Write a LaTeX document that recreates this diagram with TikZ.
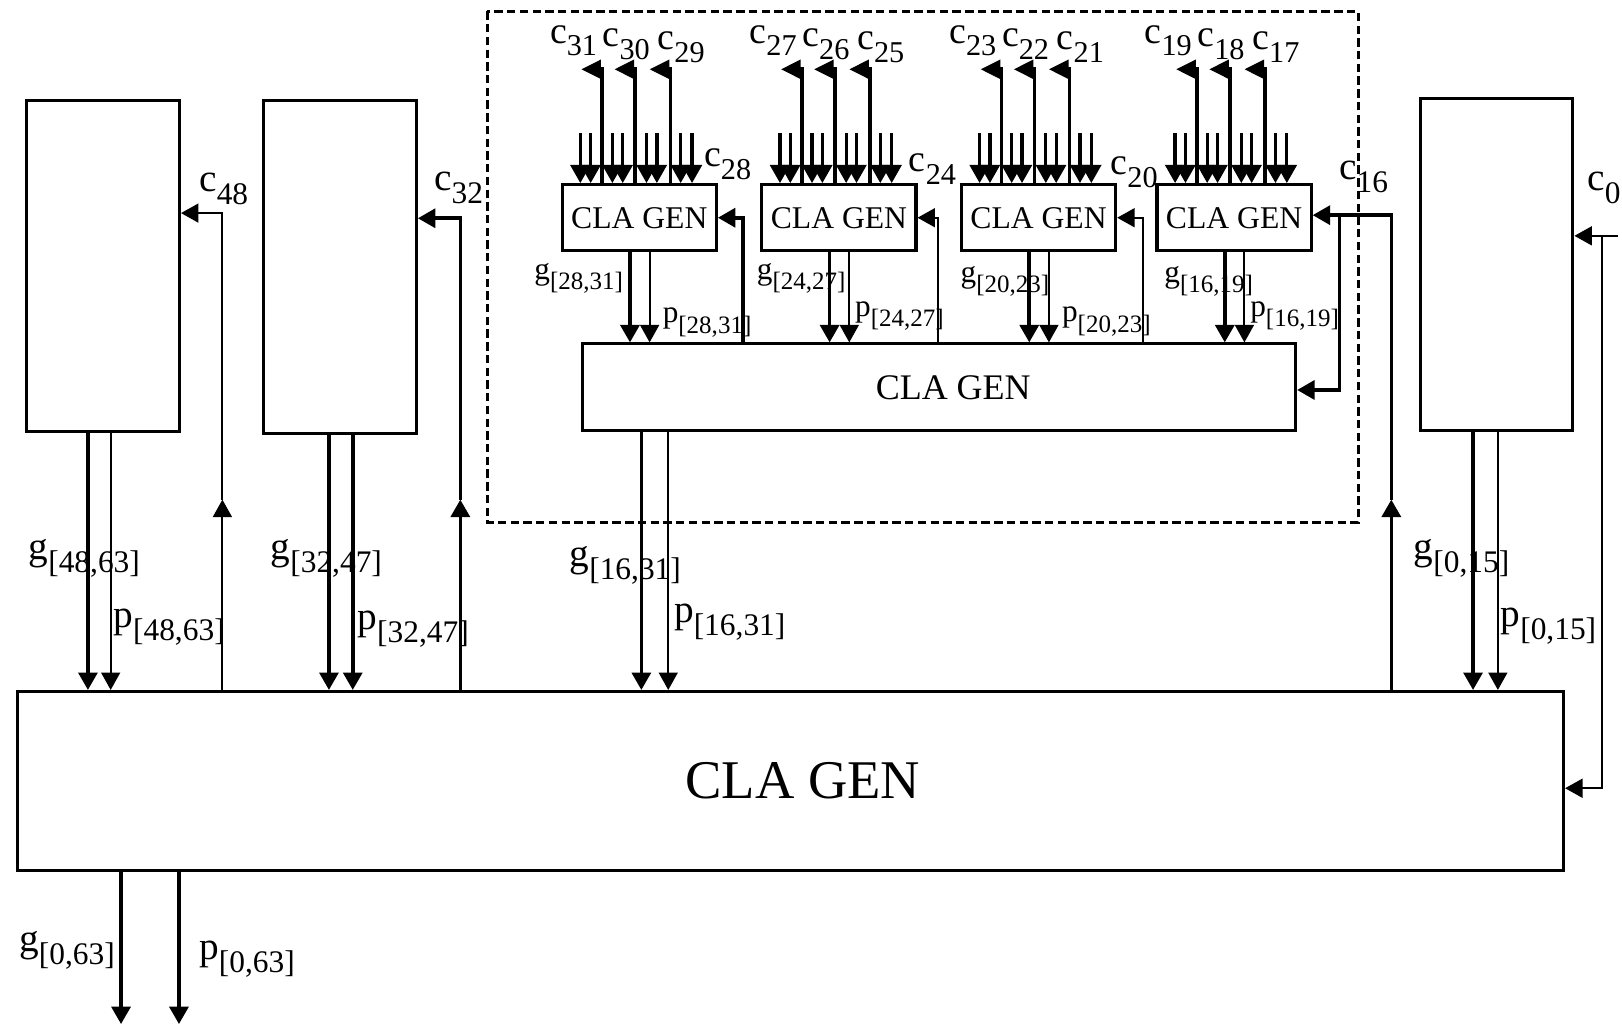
\documentclass[tikz,border=0pt]{standalone}
\usepackage{fontspec}
\setmainfont{Liberation Serif}
\usepackage{graphicx}
\usetikzlibrary{arrows.meta}
\newcommand{\sig}[2]{#1\raisebox{-0.33em}{\scalebox{0.8}{#2}}}
\tikzset{
  blk/.style={draw, line width=0.85pt, inner sep=0pt, anchor=north west},
  thk/.style={line width=1pt},
  thn/.style={line width=0.55pt},
  arr/.style={-{Triangle[length=4.8pt,width=5.2pt]}},
  sarr/.style={-{Triangle[length=5pt,width=5.4pt]}},
  cflag/.style={-{Triangle[length=5.4pt,width=5.1pt]}},
  lblbig/.style={font=\fontsize{10.8}{13}\selectfont, inner sep=0pt, anchor=base west},
  lblc/.style={font=\fontsize{10.4}{12}\selectfont, inner sep=0pt, anchor=base west},
  lblsml/.style={font=\fontsize{8.6}{10}\selectfont, inner sep=0pt, anchor=base west},
}
\begin{document}
\begin{tikzpicture}[x=0.1mm,y=-0.1mm]
  \useasboundingbox (0,0) rectangle (1568,990);
  % outer blocks
  \node[blk, minimum width=14.8mm, minimum height=32mm] (A) at (24,96) {};
  \node[blk, minimum width=14.8mm, minimum height=32.2mm] (B) at (253,96) {};
  \node[blk, minimum width=14.7mm, minimum height=32.1mm] (D) at (1372,94) {};
  \node[blk, minimum width=149.5mm, minimum height=17.3mm, font=\fontsize{15}{18}\selectfont] (main) at (15,667) {\hspace*{2.4mm}CLA GEN};
  % dashed group
  \draw[line width=0.85pt, dash pattern=on 2.3pt off 1.2pt] (471,11) rectangle (1313,505);
  \node[blk, minimum width=68.9mm, minimum height=8.4mm, font=\fontsize{9.9}{12}\selectfont] (mid) at (562,331) {\hspace*{2.7mm}CLA GEN};
  \foreach \i/\x in {1/542,2/735,3/928,4/1117}
    \node[blk, minimum width=14.9mm, minimum height=6.4mm, font=\fontsize{8.7}{10}\selectfont] (s\i) at (\x,177) {CLA GEN};

  % small generators: inputs, carries out, g and p
  \foreach \i in {1,...,4} {
    \foreach \dx in {19,29,50,60,83,93,116,127}
      \draw[line width=0.9pt, sarr] (s\i.north west) ++(\dx,-48) -- ++(0,48);
    \foreach \dx in {40,72,106}
      \draw[thk, cflag] (s\i.north west) ++(\dx,0) -- ++(0,-110) -- ++(-20,0);
    \draw[thk, arr] (s\i.south west) ++(67,0) coordinate (g\i) -- (g\i |- mid.north);
    \draw[thn, arr] (s\i.south west) ++(86,0) coordinate (p\i) -- (p\i |- mid.north);
  }
  \foreach \i/\x/\w in {1/718/thk, 2/907/thn, 3/1105/thn} {
    \coordinate (r\i) at (\x,331);
    \draw[\w, arr] (r\i) |- (s\i.east);
  }

  % group g and p into the main generator
  \foreach \n/\dg/\dp/\wg/\wp in {A/61/83/thk/thn, B/65/88/thk/thk, mid/58/84/thk/thn, D/52/76/thk/thn} {
    \draw[\wg, arr] (\n.south west) ++(\dg,0) coordinate (g\n) -- (g\n |- main.north);
    \draw[\wp, arr] (\n.south west) ++(\dp,0) coordinate (p\n) -- (p\n |- main.north);
  }
  \draw[thk, arr] (main.south west) ++(102,0) -- ++(0,147);
  \draw[thk, arr] (main.south west) ++(158,0) -- ++(0,147);

  % carries from the main generator
  \coordinate (k48) at (215,206);
  \coordinate (k48m) at (215,483);
  \draw[thn, arr] (main.north -| k48) -- (k48m);
  \draw[thn, arr] (k48m) |- (A.east |- k48);
  \coordinate (k32) at (445,211);
  \coordinate (k32m) at (445,483);
  \draw[thk, arr] (main.north -| k32) -- (k32m);
  \draw[thk, arr] (k32m) |- (B.east |- k32);
  \coordinate (k16) at (1345,208);
  \coordinate (k16m) at (1345,483);
  \draw[thk, arr] (main.north -| k16) -- (k16m);
  \draw[thk, arr] (k16m) |- (s4.east |- k16);
  \coordinate (k16b) at (1295,208);
  \coordinate (k16c) at (1295,377);
  \draw[thk, arr] (k16b) -- (k16c) -- (mid.east |- k16c);
  \coordinate (c0in) at (1564,228);
  \coordinate (k0) at (1549,228);
  \coordinate (k0b) at (1549,762);
  \draw[thn, arr] (c0in) -- (D.east |- c0in);
  \draw[thn, arr] (k0) -- (k0b) -- (main.east |- k0b);

  % labels
  \foreach \i/\a/\b/\c in {1/31/30/29, 2/27/26/25, 3/23/22/21, 4/19/18/17} {
    \node[lblc] (c\a) at ([shift={(-11,-135)}]s\i.north west) {\sig{c}{\a}};
    \node[lblc] (c\b) at ([shift={(40,-132)}]s\i.north west) {\sig{c}{\b}};
    \node[lblc] (c\c) at ([shift={(93,-129)}]s\i.north west) {\sig{c}{\c}};
  }
  \node[lblc] (c28) at (680,161) {\sig{c}{28}};
  \node[lblc] (c24) at (878,166) {\sig{c}{24}};
  \node[lblc] (c20) at (1073,169) {\sig{c}{20}};
  \node[lblbig] (c16) at (1294,174) {\sig{c}{16}};
  \node[lblbig] (c48) at (192,185) {\sig{c}{48}};
  \node[lblbig] (c32) at (419,184) {\sig{c}{32}};
  \node[lblbig] (c0) at (1534,184) {\sig{c}{0}};

  \node[lblsml] (lg1) at (516,270) {\sig{g}{[28,31]}};
  \node[lblsml] (lg2) at (731,270) {\sig{g}{[24,27]}};
  \node[lblsml] (lg3) at (928,273) {\sig{g}{[20,23]}};
  \node[lblsml] (lg4) at (1125,273) {\sig{g}{[16,19]}};
  \node[lblsml] (lp1) at (640,312) {\sig{p}{[28,31]}};
  \node[lblsml] (lp2) at (826,306) {\sig{p}{[24,27]}};
  \node[lblsml] (lp3) at (1026,311) {\sig{p}{[20,23]}};
  \node[lblsml] (lp4) at (1208,306) {\sig{p}{[16,19]}};

  \node[lblbig] (lgA) at (27,541) {\sig{g}{[48,63]}};
  \node[lblbig] (lpA) at (109,607) {\sig{p}{[48,63]}};
  \node[lblbig] (lgB) at (261,541) {\sig{g}{[32,47]}};
  \node[lblbig] (lpB) at (345,609) {\sig{p}{[32,47]}};
  \node[lblbig] (lgM) at (550,548) {\sig{g}{[16,31]}};
  \node[lblbig] (lpM) at (651,602) {\sig{p}{[16,31]}};
  \node[lblbig] (lgD) at (1366,541) {\sig{g}{[0,15]}};
  \node[lblbig] (lpD) at (1450,606) {\sig{p}{[0,15]}};
  \node[lblbig] (lgO) at (18,920) {\sig{g}{[0,63]}};
  \node[lblbig] (lpO) at (192,928) {\sig{p}{[0,63]}};
\end{tikzpicture}
\end{document}
